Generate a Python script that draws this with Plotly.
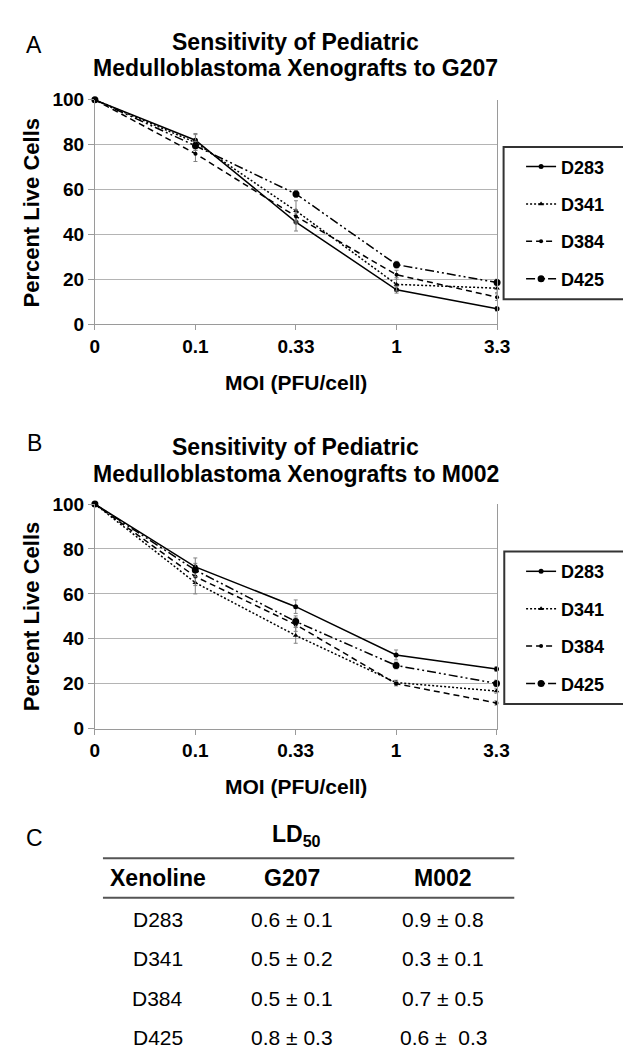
import plotly.graph_objects as go

# ---------------- data ----------------
moi = ["0", "0.1", "0.33", "1", "3.3"]
series_names = ["D283", "D341", "D384", "D425"]

g207_d283 = [100, 82, 45.5, 15.3, 6.8]
g207_d341 = [100, 81, 50.5, 17.7, 16.0]
g207_d384 = [100, 76, 48.0, 22.0, 12.0]
g207_d425 = [100, 79.5, 58.0, 26.5, 18.5]
g207_d283_err = [0, 3, 4, 1.5, 1]
g207_d341_err = [0, 3.5, 4.5, 3, 2]
g207_d384_err = [0, 3.5, 3, 2, 1.5]
g207_d425_err = [0, 2, 1.5, 1.5, 1.5]

m002_d283 = [100, 72, 54.3, 32.8, 26.5]
m002_d341 = [100, 65, 41.5, 20.5, 16.7]
m002_d384 = [100, 67.7, 46.3, 20.0, 11.4]
m002_d425 = [100, 70.6, 47.7, 28.1, 20.1]
m002_d283_err = [0, 4, 3, 2.2, 1]
m002_d341_err = [0, 5, 3.5, 1, 1]
m002_d384_err = [0, 4, 3, 1, 1]
m002_d425_err = [0, 3, 2.5, 1.5, 1.5]

y_ticks = [0, 20, 40, 60, 80, 100]

table_headers = ["Xenoline", "G207", "M002"]
xenolines = ["D283", "D341", "D384", "D425"]
ld50_g207 = ["0.6 ± 0.1", "0.5 ± 0.2", "0.5 ± 0.1", "0.8 ± 0.3"]
ld50_m002 = ["0.9 ± 0.8", "0.3 ± 0.1", "0.7 ± 0.5", "0.6 ±\u00a0 0.3"]

# ---------------- styling ----------------
W, H = 631, 1053
FONT = "Liberation Sans, Arial, sans-serif"
GRID = "#b4b4b4"
AXIS = "#9a9a9a"

def px(x):
    return x / W

def py(y):
    return 1 - y / H

styles = {
    "D283": dict(dash="solid", symbol="circle", size=5),
    "D341": dict(dash="2px,2px", symbol="triangle-up", size=5),
    "D384": dict(dash="6px,4px", symbol="circle", size=4),
    "D425": dict(dash="9px,3px,2px,3px,2px,3px", symbol="circle", size=7),
}

fig = go.Figure()

panels = [
    ("x", "y", "legend", [g207_d283, g207_d341, g207_d384, g207_d425],
     [g207_d283_err, g207_d341_err, g207_d384_err, g207_d425_err]),
    ("x2", "y2", "legend2", [m002_d283, m002_d341, m002_d384, m002_d425],
     [m002_d283_err, m002_d341_err, m002_d384_err, m002_d425_err]),
]

for xa, ya, lg, vals, errs in panels:
    for name, v, e in zip(series_names, vals, errs):
        st = styles[name]
        fig.add_trace(go.Scatter(
            x=moi, y=v, name=name, xaxis=xa, yaxis=ya, legend=lg,
            legendgroup=lg + name,
            mode="lines+markers", cliponaxis=False,
            line=dict(color="black", width=1.5, dash=st["dash"]),
            marker=dict(color="black", symbol=st["symbol"], size=st["size"]),
            error_y=dict(type="data", array=e, visible=True,
                         color="#808080", thickness=1, width=2),
        ))

axis_common_x = dict(
    type="category", range=[0, 4], showgrid=False,
    showline=True, linecolor=AXIS, linewidth=1,
    ticks="outside", ticklen=5, tickcolor=AXIS,
    tickfont=dict(family=FONT, size=19, color="black", weight="bold"),
    zeroline=False, fixedrange=True,
)
axis_common_y = dict(
    range=[0, 100], tickvals=y_ticks, showgrid=True, gridcolor=GRID, gridwidth=1,
    showline=True, linecolor=AXIS, linewidth=1, mirror=True,
    ticks="outside", ticklen=6, tickcolor=AXIS,
    tickfont=dict(family=FONT, size=19, color="black", weight="bold"),
    zeroline=False, fixedrange=True,
)

legend_common = dict(xanchor="left", yanchor="top",
                     bgcolor="rgba(0,0,0,0)", borderwidth=0, tracegroupgap=11,
                     font=dict(family=FONT, size=18, color="black", weight="bold"))

fig.update_layout(
    width=W, height=H,
    margin=dict(l=0, r=0, t=0, b=0),
    paper_bgcolor="white", plot_bgcolor="white",
    showlegend=True,
    xaxis=dict(domain=[px(84.3), px(498.3)], anchor="y", **axis_common_x),
    yaxis=dict(domain=[py(312.3), py(83.5)], anchor="x", **axis_common_y),
    xaxis2=dict(domain=[px(84.3), px(497.7)], anchor="y2", **axis_common_x),
    yaxis2=dict(domain=[py(725), py(496)], anchor="x2", **axis_common_y),
    legend=dict(x=px(523), y=py(133), **legend_common),
    legend2=dict(x=px(523), y=py(546), **legend_common),
)

# legend frames
for (x0, y0, x1, y1) in [(505, 131.7, 629, 287), (505.7, 544.3, 629, 700)]:
    fig.add_shape(type="rect", xref="paper", yref="paper",
                  x0=px(x0), x1=px(x1), y0=py(y1), y1=py(y0),
                  line=dict(color="#333333", width=2), fillcolor="rgba(0,0,0,0)")

anns = []

def ann(text, x, y, size, bold=False, angle=0, xanchor="center"):
    anns.append(dict(
        text=text, x=px(x), y=py(y), xref="paper", yref="paper",
        xanchor=xanchor, yanchor="middle", showarrow=False, textangle=angle,
        font=dict(family=FONT, size=size, color="black",
                  weight="bold" if bold else "normal"),
    ))

# panel letters
ann("A", 22, 28, 23)
ann("B", 22, 434, 23)
ann("C", 22, 837, 23)

# chart titles
ann("Sensitivity of Pediatric", 291, 24, 23, bold=True)
ann("Medulloblastoma Xenografts to G207", 291, 51.5, 23, bold=True)
ann("Sensitivity of Pediatric", 291, 437.5, 23, bold=True)
ann("Medulloblastoma Xenografts to M002", 291, 465, 23, bold=True)

# axis titles
ann("MOI (PFU/cell)", 291, 371.5, 21, bold=True)
ann("MOI (PFU/cell)", 291, 784.5, 21, bold=True)
ann("Percent Live Cells", 19, 198, 22, bold=True, angle=-90)
ann("Percent Live Cells", 19, 610, 22, bold=True, angle=-90)

# table C
ann("LD<sub>50</sub>", 292, 834, 23, bold=True)
col_x = [149, 287, 443]
for cx, h in zip(col_x, table_headers):
    ann(h, cx, 878, 23, bold=True)
row_y = [919.5, 960, 1000.7, 1040.7]
for ry, xn, g, m in zip(row_y, xenolines, ld50_g207, ld50_m002):
    ann(xn, col_x[0], ry, 21)
    ann(g, col_x[1], ry, 21)
    ann(m, col_x[2], ry, 21)

for ly in [857.3, 897.7]:
    fig.add_shape(type="line", xref="paper", yref="paper",
                  x0=px(92.6), x1=px(516), y0=py(ly), y1=py(ly),
                  line=dict(color="#555555", width=2))

fig.update_layout(annotations=anns)

fig.write_html("out.html")
